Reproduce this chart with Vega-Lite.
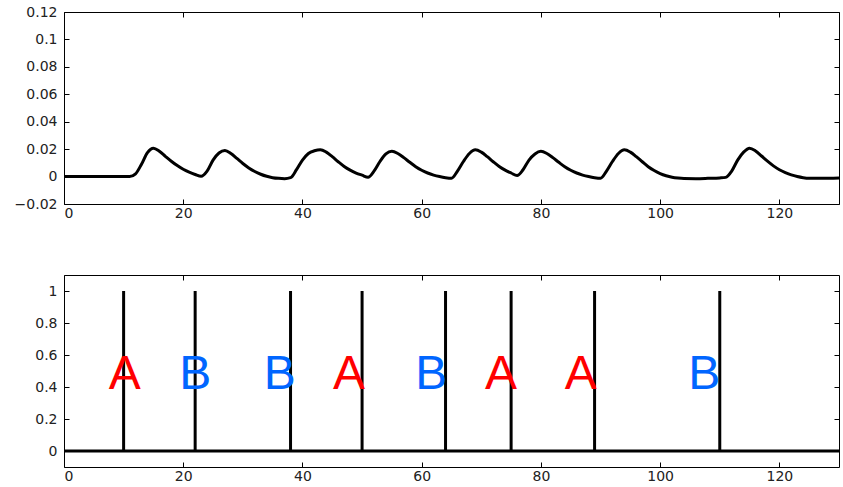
{
  "$schema": "https://vega.github.io/schema/vega-lite/v6.json",
  "background": "white",
  "padding": {"left": 13, "top": 4, "right": 3, "bottom": 0},
  "bounds": "flush",
  "spacing": 71,
  "config": {
    "view": {"stroke": "#000", "strokeWidth": 1},
    "axis": {
      "grid": false,
      "domain": false,
      "tickColor": "#000",
      "tickSize": -5,
      "tickWidth": 1,
      "labelFont": "DejaVu Sans",
      "labelFontSize": 14,
      "labelColor": "#222",
      "title": null
    }
  },
  "datasets": {
    "signal": [
      {"t": 0, "v": 0}, {"t": 5, "v": 0}, {"t": 10, "v": 0}, {"t": 11, "v": 0},
      {"t": 12, "v": 0.002}, {"t": 13, "v": 0.009}, {"t": 14, "v": 0.0175}, {"t": 15, "v": 0.0207},
      {"t": 16, "v": 0.0185}, {"t": 17, "v": 0.0148}, {"t": 18, "v": 0.0112}, {"t": 19, "v": 0.008},
      {"t": 20, "v": 0.0053}, {"t": 21, "v": 0.0032}, {"t": 22, "v": 0.0015}, {"t": 23, "v": 0.0002},
      {"t": 24, "v": 0.004}, {"t": 25, "v": 0.012}, {"t": 26, "v": 0.0172}, {"t": 27, "v": 0.019},
      {"t": 28, "v": 0.0168}, {"t": 29, "v": 0.0132}, {"t": 30, "v": 0.0095}, {"t": 31, "v": 0.0063},
      {"t": 32, "v": 0.0037}, {"t": 33, "v": 0.0017}, {"t": 34, "v": 0.0002}, {"t": 35, "v": -0.0008},
      {"t": 36, "v": -0.0013}, {"t": 37, "v": -0.0015}, {"t": 38, "v": -0.0008}, {"t": 39, "v": 0.005},
      {"t": 40, "v": 0.012}, {"t": 41, "v": 0.0168}, {"t": 42, "v": 0.0188}, {"t": 43, "v": 0.0196},
      {"t": 44, "v": 0.0178}, {"t": 45, "v": 0.0145}, {"t": 46, "v": 0.0108}, {"t": 47, "v": 0.0074},
      {"t": 48, "v": 0.0047}, {"t": 49, "v": 0.0026}, {"t": 50, "v": 0.001}, {"t": 51, "v": -0.0005},
      {"t": 52, "v": 0.004}, {"t": 53, "v": 0.011}, {"t": 54, "v": 0.0165}, {"t": 55, "v": 0.0184},
      {"t": 56, "v": 0.0168}, {"t": 57, "v": 0.0138}, {"t": 58, "v": 0.0104}, {"t": 59, "v": 0.0072},
      {"t": 60, "v": 0.0046}, {"t": 61, "v": 0.0026}, {"t": 62, "v": 0.0011}, {"t": 63, "v": 0},
      {"t": 64, "v": -0.0008}, {"t": 65, "v": -0.0012}, {"t": 66, "v": 0.004}, {"t": 67, "v": 0.011},
      {"t": 68, "v": 0.0168}, {"t": 69, "v": 0.0195}, {"t": 70, "v": 0.0178}, {"t": 71, "v": 0.0145},
      {"t": 72, "v": 0.0108}, {"t": 73, "v": 0.0074}, {"t": 74, "v": 0.0047}, {"t": 75, "v": 0.0026},
      {"t": 76, "v": 0.0008}, {"t": 77, "v": 0.005}, {"t": 78, "v": 0.012}, {"t": 79, "v": 0.0165},
      {"t": 80, "v": 0.0184}, {"t": 81, "v": 0.0168}, {"t": 82, "v": 0.0138}, {"t": 83, "v": 0.0104},
      {"t": 84, "v": 0.0072}, {"t": 85, "v": 0.0046}, {"t": 86, "v": 0.0026}, {"t": 87, "v": 0.0011},
      {"t": 88, "v": 0}, {"t": 89, "v": -0.0008}, {"t": 90, "v": -0.0012}, {"t": 91, "v": 0.004},
      {"t": 92, "v": 0.011}, {"t": 93, "v": 0.0168}, {"t": 94, "v": 0.0195}, {"t": 95, "v": 0.0178},
      {"t": 96, "v": 0.0145}, {"t": 97, "v": 0.0108}, {"t": 98, "v": 0.0072}, {"t": 99, "v": 0.0044},
      {"t": 100, "v": 0.0022}, {"t": 101, "v": 0.0006}, {"t": 102, "v": -0.0005}, {"t": 103, "v": -0.0011},
      {"t": 104, "v": -0.0014}, {"t": 106, "v": -0.0015}, {"t": 108, "v": -0.0013}, {"t": 110, "v": -0.001},
      {"t": 111, "v": -0.0006}, {"t": 112, "v": 0.004}, {"t": 113, "v": 0.012}, {"t": 114, "v": 0.0178},
      {"t": 115, "v": 0.0207}, {"t": 116, "v": 0.0187}, {"t": 117, "v": 0.015}, {"t": 118, "v": 0.0112},
      {"t": 119, "v": 0.0078}, {"t": 120, "v": 0.005}, {"t": 121, "v": 0.0029}, {"t": 122, "v": 0.0012},
      {"t": 123, "v": 0}, {"t": 124, "v": -0.0008}, {"t": 125, "v": -0.0012}, {"t": 127, "v": -0.0013},
      {"t": 130, "v": -0.001}
    ],
    "spikes": [
      {"t": 10, "lo": 0, "v": 1}, {"t": 22, "lo": 0, "v": 1}, {"t": 38, "lo": 0, "v": 1}, {"t": 50, "lo": 0, "v": 1},
      {"t": 64, "lo": 0, "v": 1}, {"t": 75, "lo": 0, "v": 1}, {"t": 89, "lo": 0, "v": 1}, {"t": 110, "lo": 0, "v": 1}
    ],
    "baseline": [
      {"t": 0, "v": 0}, {"t": 130, "v": 0}
    ],
    "labels": [
      {"t": 10.2, "v": 0.385, "label": "A"},
      {"t": 22.0, "v": 0.385, "label": "B"},
      {"t": 36.2, "v": 0.385, "label": "B"},
      {"t": 47.8, "v": 0.385, "label": "A"},
      {"t": 61.6, "v": 0.385, "label": "B"},
      {"t": 73.3, "v": 0.385, "label": "A"},
      {"t": 86.7, "v": 0.385, "label": "A"},
      {"t": 107.4, "v": 0.385, "label": "B"}
    ]
  },
  "vconcat": [
    {
      "width": 775,
      "height": 192,
      "layer": [
        {
          "data": {"name": "signal"},
          "mark": {"type": "line", "color": "#000", "strokeWidth": 3, "interpolate": "monotone"},
          "encoding": {
            "x": {"field": "t", "type": "quantitative",
                  "scale": {"domain": [0, 130], "nice": false, "zero": false},
                  "axis": {"orient": "bottom", "values": [0, 20, 40, 60, 80, 100, 120], "labelPadding": 7}},
            "y": {"field": "v", "type": "quantitative",
                  "scale": {"domain": [-0.02, 0.12], "nice": false, "zero": false},
                  "axis": {"orient": "left", "values": [-0.02, 0, 0.02, 0.04, 0.06, 0.08, 0.1, 0.12], "format": ".2~f", "labelPadding": 12}}
          }
        },
        {
          "data": {"name": "signal"},
          "mark": {"type": "line", "opacity": 0},
          "encoding": {
            "x": {"field": "t", "type": "quantitative",
                  "axis": {"orient": "top", "values": [0, 20, 40, 60, 80, 100, 120], "labels": false}},
            "y": {"field": "v", "type": "quantitative",
                  "axis": {"orient": "right", "values": [-0.02, 0, 0.02, 0.04, 0.06, 0.08, 0.1, 0.12], "labels": false}}
          }
        }
      ],
      "resolve": {"axis": {"x": "independent", "y": "independent"}}
    },
    {
      "width": 775,
      "height": 192,
      "layer": [
        {
          "data": {"name": "baseline"},
          "mark": {"type": "line", "color": "#000", "strokeWidth": 3},
          "encoding": {
            "x": {"field": "t", "type": "quantitative",
                  "scale": {"domain": [0, 130], "nice": false, "zero": false},
                  "axis": {"orient": "bottom", "values": [0, 20, 40, 60, 80, 100, 120], "labelPadding": 7}},
            "y": {"field": "v", "type": "quantitative",
                  "scale": {"domain": [-0.1, 1.1], "nice": false, "zero": false},
                  "axis": {"orient": "left", "values": [0, 0.2, 0.4, 0.6, 0.8, 1], "format": "~g", "labelPadding": 12}}
          }
        },
        {
          "data": {"name": "baseline"},
          "mark": {"type": "line", "opacity": 0},
          "encoding": {
            "x": {"field": "t", "type": "quantitative",
                  "axis": {"orient": "top", "values": [0, 20, 40, 60, 80, 100, 120], "labels": false}},
            "y": {"field": "v", "type": "quantitative",
                  "axis": {"orient": "right", "values": [0, 0.2, 0.4, 0.6, 0.8, 1], "labels": false}}
          }
        },
        {
          "data": {"name": "spikes"},
          "mark": {"type": "rule", "color": "#000", "strokeWidth": 3},
          "encoding": {
            "x": {"field": "t", "type": "quantitative", "axis": null},
            "y": {"field": "lo", "type": "quantitative", "axis": null},
            "y2": {"field": "v"}
          }
        },
        {
          "data": {"name": "labels"},
          "mark": {"type": "text", "font": "Liberation Sans", "fontSize": 48, "align": "center", "baseline": "alphabetic"},
          "encoding": {
            "x": {"field": "t", "type": "quantitative", "axis": null},
            "y": {"field": "v", "type": "quantitative", "axis": null},
            "text": {"field": "label"},
            "color": {"field": "label", "type": "nominal",
                      "scale": {"domain": ["A", "B"], "range": ["#ff0000", "#0066ff"]},
                      "legend": null}
          }
        }
      ],
      "resolve": {"axis": {"x": "independent", "y": "independent"}}
    }
  ]
}
